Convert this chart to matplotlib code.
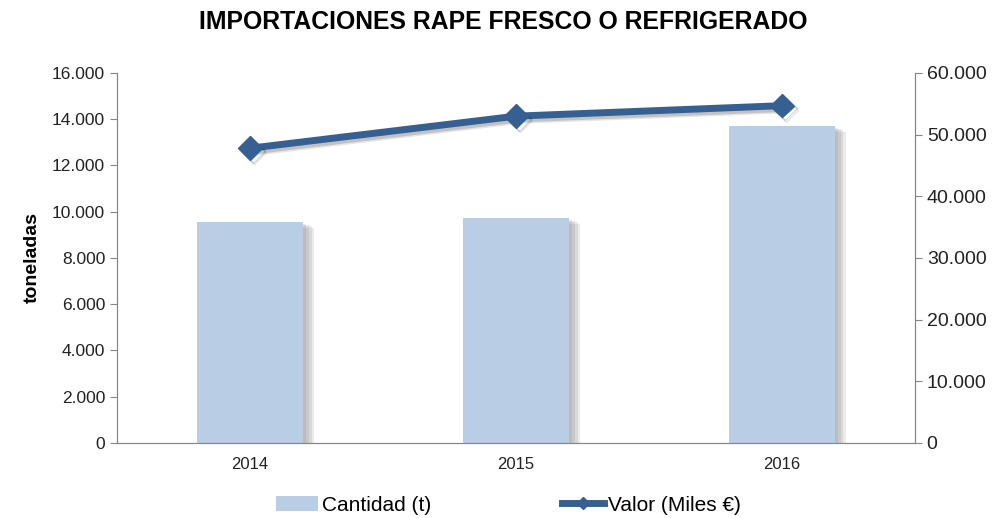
import matplotlib
matplotlib.use("Agg")
import matplotlib.pyplot as plt
import matplotlib.patheffects as pe
from matplotlib.ticker import FuncFormatter
from matplotlib.lines import Line2D
from matplotlib.patches import Patch

plt.rcParams['font.family'] = ['Liberation Sans', 'DejaVu Sans']

# datos
anios = ['2014', '2015', '2016']
cantidad = [9550, 9720, 13700]      # toneladas
valor = [47800, 53000, 54700]       # miles de euros

bar_color = '#B9CDE5'
line_color = '#376092'
grey = '#868686'

def miles(x, pos):
    return f'{int(x):,}'.replace(',', '.')

fig = plt.figure(figsize=(10.03, 5.18), dpi=100)
ax = fig.add_axes([0.1167, 0.1448, 0.7955, 0.7143])
ax2 = ax.twinx()

# sombra difusa: varias capas desplazadas con poca opacidad
sombra_barra = [pe.SimplePatchShadow(offset=(d, -d * 0.5), shadow_rgbFace='#707070', alpha=0.14)
                for d in (2, 4, 6, 8)]
x = range(len(anios))
ax.bar(x, cantidad, width=0.4, color=bar_color, zorder=2,
       path_effects=sombra_barra + [pe.Normal()])
ax2.plot(x, valor, color=line_color, lw=5, marker='D', markersize=12,
         path_effects=[pe.SimpleLineShadow(offset=(2, -2), alpha=0.15),
                       pe.SimpleLineShadow(offset=(3, -3), alpha=0.1), pe.Normal()])

ax.set_xlim(-0.5, 2.5)
ax.set_ylim(0, 16000)
ax2.set_ylim(0, 60000)
ax.set_yticks(range(0, 16001, 2000))
ax2.set_yticks(range(0, 60001, 10000))
ax.yaxis.set_major_formatter(FuncFormatter(miles))
ax2.yaxis.set_major_formatter(FuncFormatter(miles))
ax.set_xticks(list(x))
ax.set_xticklabels(anios)

for a in (ax, ax2):
    a.spines['top'].set_visible(False)
    for s in ('left', 'right', 'bottom'):
        a.spines[s].set_color(grey)
ax.tick_params(axis='y', labelsize=12.5, color=grey, length=5, labelcolor='#222222')
ax.tick_params(axis='x', labelsize=12, length=0, pad=10, labelcolor='#222222')
ax2.tick_params(axis='y', labelsize=14, color=grey, length=5, labelcolor='#222222')

ax.set_ylabel('toneladas', fontsize=14, fontweight='bold', labelpad=8)
fig.text(0.502, 0.957, 'IMPORTACIONES RAPE FRESCO O REFRIGERADO', fontsize=17.8,
         fontweight='bold', ha='center', va='center')

handles = [Patch(facecolor=bar_color, edgecolor='none'),
           Line2D([0], [0], color=line_color, lw=5, marker='D', markersize=6)]
fig.legend(handles, ['Cantidad (t)', 'Valor (Miles €)'], loc='center',
           bbox_to_anchor=(0.507, 0.025), ncol=2, frameon=False, fontsize=15,
           columnspacing=6.3, handlelength=2.0, handletextpad=0.2)

fig.savefig('out.png', dpi=100)
